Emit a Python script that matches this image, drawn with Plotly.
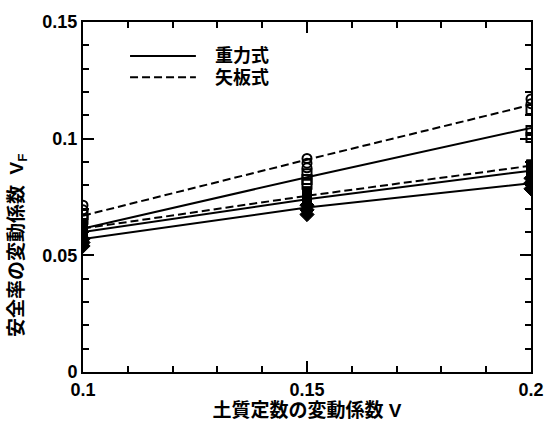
import plotly.graph_objects as go

# ---- data ----
x_vals = [0.1, 0.15, 0.2]

# 重力式 (solid lines)
grav_1 = [0.0615, 0.0835, 0.1046]
grav_2 = [0.0600, 0.0740, 0.0863]
grav_3 = [0.0570, 0.0705, 0.0809]
# 矢板式 (dashed lines)
sheet_1 = [0.0670, 0.0910, 0.1145]
sheet_2 = [0.0615, 0.0755, 0.0884]

# individual case markers
circ_x = [0.1, 0.1, 0.15, 0.15, 0.15, 0.2, 0.2]
circ_y = [0.0715, 0.0695, 0.0915, 0.0895, 0.0875, 0.1170, 0.1150]
osq_x = [0.1, 0.1, 0.15, 0.15, 0.15, 0.2, 0.2, 0.2]
osq_y = [0.0675, 0.0655, 0.0850, 0.0825, 0.0805, 0.1125, 0.1035, 0.1005]
fsq_x = [0.1, 0.1, 0.1, 0.15, 0.15, 0.15, 0.2, 0.2, 0.2]
fsq_y = [0.0630, 0.0610, 0.0590, 0.0775, 0.0755, 0.0735, 0.0890, 0.0870, 0.0850]
dia_x = [0.1, 0.1, 0.1, 0.15, 0.15, 0.15, 0.2, 0.2, 0.2]
dia_y = [0.0570, 0.0555, 0.0540, 0.0715, 0.0695, 0.0675, 0.0830, 0.0810, 0.0785]

x_ticks = [0.1, 0.15, 0.2]
x_ticklabels = ["0.1", "0.15", "0.2"]
y_ticks = [0, 0.05, 0.1, 0.15]
y_ticklabels = ["0", "0.05", "0.1", "0.15"]

legend_names = ["重力式", "矢板式"]

FONT = "Liberation Sans, Arial, 'Noto Sans CJK JP', sans-serif"

fig = go.Figure()

line_w = 2
for ys in [grav_1, grav_2, grav_3]:
    fig.add_trace(go.Scatter(x=x_vals, y=ys, mode="lines",
                             line=dict(color="black", width=line_w), showlegend=False))
for ys in [sheet_1, sheet_2]:
    fig.add_trace(go.Scatter(x=x_vals, y=ys, mode="lines",
                             line=dict(color="black", width=line_w, dash="8px,4px"), showlegend=False))

fig.add_trace(go.Scatter(x=dia_x, y=dia_y, mode="markers", showlegend=False,
                         marker=dict(symbol="diamond", size=11, color="black",
                                     line=dict(color="black", width=1))))
fig.add_trace(go.Scatter(x=fsq_x, y=fsq_y, mode="markers", showlegend=False,
                         marker=dict(symbol="square", size=9, color="black",
                                     line=dict(color="black", width=1))))
fig.add_trace(go.Scatter(x=osq_x, y=osq_y, mode="markers", showlegend=False,
                         marker=dict(symbol="square-open", size=9, color="black",
                                     line=dict(color="black", width=2))))
fig.add_trace(go.Scatter(x=circ_x, y=circ_y, mode="markers", showlegend=False,
                         marker=dict(symbol="circle-open", size=9, color="black",
                                     line=dict(color="black", width=2))))

# manual legend
leg_rows = [(0.903, "solid"), (0.842, "8px,4px")]
for (py, dash), name in zip(leg_rows, legend_names):
    fig.add_shape(type="line", xref="paper", yref="paper", x0=0.105, x1=0.252, y0=py, y1=py,
                  line=dict(color="black", width=2, dash=dash))
    fig.add_annotation(x=0.29, y=py, xref="paper", yref="paper", text=f"<b>{name}</b>",
                       showarrow=False, xanchor="left", yanchor="middle",
                       font=dict(size=18, color="black", family=FONT))

# y-axis title as annotation
fig.add_annotation(x=-0.145, y=0.36, xref="paper", yref="paper",
                   text="<b>安全率の変動係数  V<sub>F</sub></b>", textangle=-90,
                   showarrow=False, xanchor="center", yanchor="middle",
                   font=dict(size=19, color="black", family=FONT))

axis_common = dict(showline=True, linecolor="black", linewidth=2, mirror="allticks",
                   ticks="inside", tickcolor="black", tickwidth=2, ticklen=11,
                   showgrid=False, zeroline=False,
                   tickfont=dict(size=18, color="black", family=FONT))

fig.update_xaxes(range=[0.1, 0.2], tickvals=x_ticks,
                 ticktext=[f"<b>{t}</b>" for t in x_ticklabels],
                 minor=dict(ticks="inside", dtick=0.01, ticklen=6, tickwidth=2, tickcolor="black"),
                 title=dict(text="<b>土質定数の変動係数 V</b>", standoff=2,
                            font=dict(size=19, color="black", family=FONT)),
                 **axis_common)
fig.update_yaxes(range=[0, 0.15], tickvals=y_ticks,
                 ticktext=[f"<b>{t}</b>" for t in y_ticklabels],
                 minor=dict(ticks="inside", dtick=0.01, ticklen=6, tickwidth=2, tickcolor="black"),
                 **axis_common)

fig.update_layout(width=556, height=427, margin=dict(l=83, r=13, t=14, b=52),
                  plot_bgcolor="white", paper_bgcolor="white",
                  font=dict(family=FONT, color="black"), showlegend=False)

fig.write_html("out.html")
